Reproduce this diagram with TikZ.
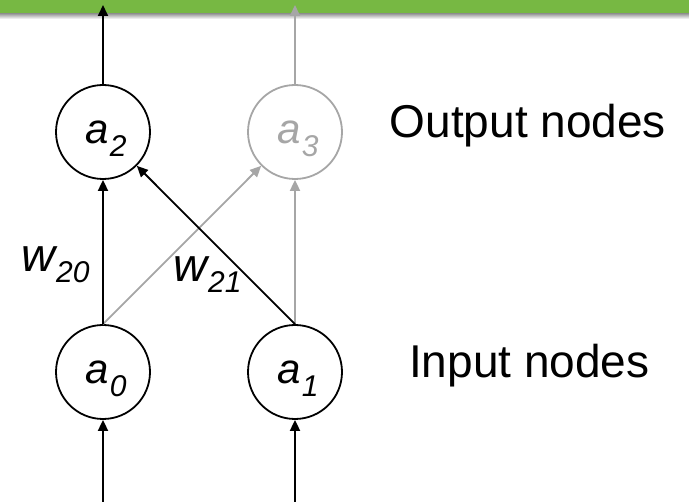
\documentclass[tikz,border=0pt]{standalone}
\usepackage{fontspec}
\setmainfont{Liberation Sans}
\usetikzlibrary{arrows.meta}
\definecolor{barGreen}{RGB}{119,184,67}
\definecolor{dimGray}{RGB}{166,166,166}
% activation a_k and weight w_jk, italic with lowered subscripts
\newcommand{\actv}[1]{{\fontsize{42}{42}\selectfont\itshape a}\kern1pt\raisebox{-13pt}{\fontsize{30}{30}\selectfont\itshape #1}}
\newcommand{\wgt}[1]{{\fontsize{47}{47}\selectfont\itshape w}\kern1pt\raisebox{-11pt}{\fontsize{30}{30}\selectfont\itshape #1}}
\begin{document}
\begin{tikzpicture}[x=1pt,y=-1pt,
  neuron/.style={circle, draw, line width=1.8pt, minimum size=94pt, inner sep=0pt,
                 text height=24pt, text depth=0pt},
  faded/.style={draw=dimGray, text=dimGray},
  link/.style={line width=1.8pt, -{Triangle[length=11pt,width=10pt]}},
  caption/.style={anchor=base west, inner sep=0pt, font=\fontsize{46}{46}\selectfont},
  weight/.style={anchor=base west, inner sep=0pt}]
\useasboundingbox (0,0) rectangle (689,502);

% header bar with its soft shadow
\shade[top color=black!45, bottom color=white] (0,13) rectangle (689,19);
\fill[barGreen] (0,0) rectangle (689,13.5);

% neurons
\node[neuron] (a2) at (103,132) {\hspace{6pt}\actv{2}};
\node[neuron, faded] (a3) at (295,132) {\hspace{6pt}\actv{3}};
\node[neuron] (a0) at (103,372) {\hspace{6pt}\actv{0}};
\node[neuron] (a1) at (295,372) {\hspace{6pt}\actv{1}};

% free ends of the input and output arrows
\coordinate (out2) at (103,5);
\coordinate (out3) at (295,5);
\coordinate (in0) at (103,502);
\coordinate (in1) at (295,502);

% connections
\draw[link, dimGray] (a0.north) -- (a3);
\draw[link, dimGray] (a1.north) -- (a3.south);
\draw[link, dimGray] (a3.north) -- (out3);
\draw[link] (a0.north) -- (a2.south);
\draw[link] (a1.north) -- (a2);
\draw[link] (a2.north) -- (out2);
\draw[link] (in0) -- (a0.south);
\draw[link] (in1) -- (a1.south);

% weight labels
\node[weight] (w20) at (21,272) {\wgt{20}};
\node[weight] (w21) at (173,282) {\wgt{21}};

% layer captions
\node[caption] (outcap) at (389.5,138) {Output nodes};
\node[caption] (incap) at (409,378) {Input nodes};
\end{tikzpicture}
\end{document}
